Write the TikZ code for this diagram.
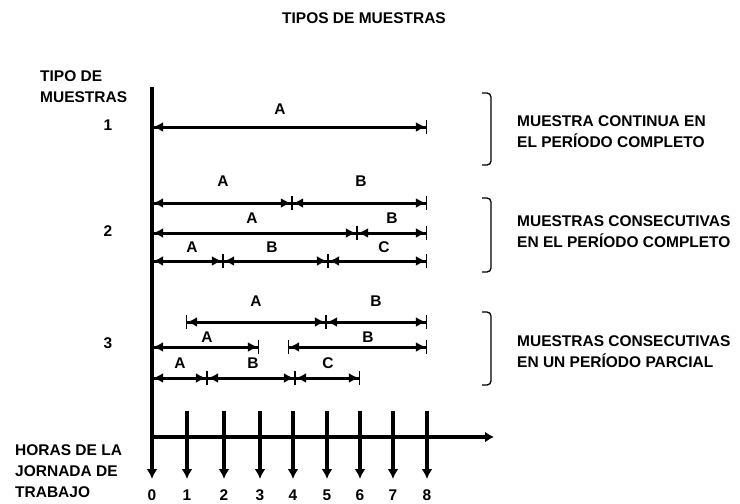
\documentclass[tikz,border=0pt]{standalone}
\usepackage{fontspec}
\setmainfont{Liberation Sans}
\usetikzlibrary{arrows.meta}

\begin{document}
\begin{tikzpicture}[x=1pt, y=-1pt,
  every node/.style={font=\bfseries\fontsize{15.5}{21}\selectfont, inner sep=0pt},
  seg/.style={line width=3pt, {Bar[width=14pt,line width=1.2pt]Latex[length=10pt,width=10pt]}-{Latex[length=10pt,width=10pt]Bar[width=14pt,line width=1.2pt]}},
  hora/.style={line width=3.4pt, -{Latex[length=10pt,width=11pt]}},
  llave/.style={line width=1.3pt, rounded corners=4pt}]

\useasboundingbox (0,0) rectangle (740,504);

%Title
\node (titulo) at (364,18) {TIPOS DE MUESTRAS};

%Left labels
\node[align=left, anchor=west] (tipo) at (40,87) {TIPO DE\\MUESTRAS};
\node (t1) at (108,125) {1};
\node (t2) at (108,231) {2};
\node (t3) at (108,343) {3};
\node[align=left, anchor=west] (horas) at (15,471) {HORAS DE LA\\JORNADA DE\\TRABAJO};

%% Axes
\coordinate (ytop) at (152,87);
\coordinate (ybot) at (152,479);
\coordinate (xizq) at (152,437);
\coordinate (xder) at (494,437);
\draw[line width=4pt, -{Latex[length=10pt,width=11pt]}] (ytop) -- (ybot);
\draw[line width=4pt, -{Latex[length=9pt,width=11pt]}] (xizq) -- (xder);

% hours of the shift
\node (h0) at (152,495) {0};
\foreach \h/\x in {1/187, 2/224, 3/260, 4/293, 5/327, 6/360, 7/393, 8/427}{
  \coordinate (arr\h) at (\x,411);
  \coordinate (aba\h) at (\x,479);
  \draw[hora] (arr\h) -- (aba\h);
  \node (h\h) at (\x,495) {\h};
}

% samples
\foreach \i/\y/\a/\b/\l/\lx/\ly in {
  1/127/152/427/A/280/109,
  2/203/152/292/A/223/181, 3/203/292/427/B/361/181,
  4/233/152/357/A/252/218, 5/233/357/427/B/392/218,
  6/261/152/223/A/192/247, 7/261/223/328/B/272/247, 8/261/328/427/C/384/247,
  9/322/186/326/A/256/301, 10/322/326/427/B/376/301,
  11/347/152/259/A/207/337, 12/347/288/427/B/368/337,
  13/378/152/207/A/180/363, 14/378/207/295/B/253/363, 15/378/295/360/C/328/363}{
  \coordinate (ini\i) at (\a,\y);
  \coordinate (fin\i) at (\b,\y);
  \draw[seg] (ini\i) -- (fin\i);
  \node (m\i) at (\lx,\ly) {\l};
}

%Brackets
\draw[llave] (482,93) -- (491,93) -- (491,165) -- (482,165);
\draw[llave] (482,198) -- (491,198) -- (491,272) -- (482,272);
\draw[llave] (482,312) -- (491,312) -- (491,385) -- (482,385);

\node[align=left, anchor=west] (d1) at (517,132) {MUESTRA CONTINUA EN\\EL PERÍODO COMPLETO};
\node[align=left, anchor=west] (d2) at (517,232) {MUESTRAS CONSECUTIVAS\\EN EL PERÍODO COMPLETO};
\node[align=left, anchor=west] (d3) at (517,352) {MUESTRAS CONSECUTIVAS\\EN UN PERÍODO PARCIAL};

\end{tikzpicture}
\end{document}
